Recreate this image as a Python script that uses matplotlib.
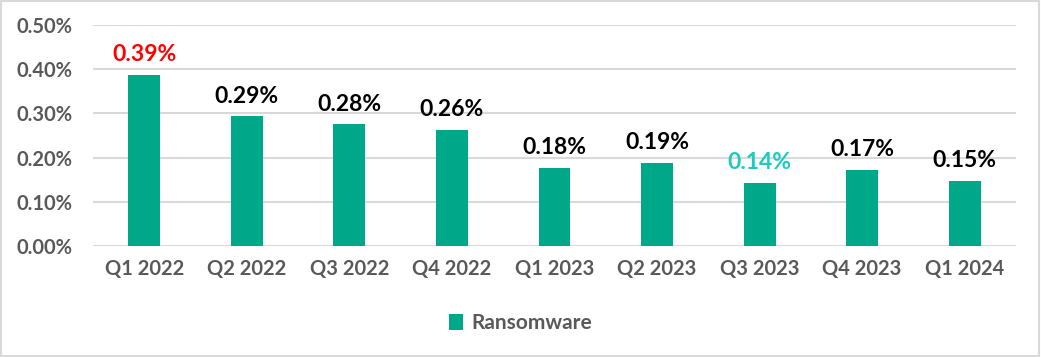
import matplotlib.pyplot as plt
from matplotlib.patches import Rectangle

quarters = ["Q1 2022", "Q2 2022", "Q3 2022", "Q4 2022", "Q1 2023",
            "Q2 2023", "Q3 2023", "Q4 2023", "Q1 2024"]
ransomware = [0.387, 0.293, 0.275, 0.263, 0.176, 0.188, 0.143, 0.173, 0.148]
labels = ["0.39%", "0.29%", "0.28%", "0.26%", "0.18%", "0.19%", "0.14%", "0.17%", "0.15%"]
yticks = [0.0, 0.1, 0.2, 0.3, 0.4, 0.5]

bar_color = "#00A88A"
font = "Lato"

fig = plt.figure(figsize=(10.41, 3.57), dpi=100)
ax = fig.add_axes([93 / 1041, 111 / 357, 923 / 1041, 221 / 357])

x = range(len(quarters))
bars = ax.bar(x, ransomware, width=0.31, color=bar_color, label="Ransomware", zorder=3)

imax = ransomware.index(max(ransomware))
imin = ransomware.index(min(ransomware))
for i, (v, t) in enumerate(zip(ransomware, labels)):
    c = "black"
    if i == imax:
        c = "#FF0000"
    elif i == imin:
        c = "#1CCBC0"
    ax.text(i, v + 0.022, t, ha="center", va="bottom", fontsize=16.5,
            fontweight="bold", color=c, family=font)

ax.set_xlim(-0.5, len(quarters) - 0.5)
ax.set_ylim(0, 0.5)
ax.set_yticks(yticks)
ax.set_yticklabels([f"{t:.2f}%" for t in yticks])
ax.set_xticks(list(x))
ax.set_xticklabels(quarters)
for lab in ax.get_xticklabels() + ax.get_yticklabels():
    lab.set_family(font)
    lab.set_fontweight("bold")
    lab.set_fontsize(14.5)
    lab.set_color("#595959")
ax.tick_params(axis="x", length=0, pad=9)
ax.tick_params(axis="y", length=0, pad=15)
ax.grid(axis="y", color="#D9D9D9", linewidth=1.5, zorder=0)
for s in ax.spines.values():
    s.set_visible(False)

leg = fig.legend(handles=[bars], loc="center", bbox_to_anchor=(0.5, 34 / 357),
                 frameon=False, handlelength=0.7, handleheight=0.8,
                 handletextpad=0.4, prop={"family": font, "weight": "bold", "size": 15})
for t in leg.get_texts():
    t.set_color("#595959")

fig.patches.append(Rectangle((0.001, 0.002), 0.997, 0.995, transform=fig.transFigure,
                             fill=False, edgecolor="#D9D9D9", linewidth=1.5))

fig.savefig("out.png", dpi=100)
